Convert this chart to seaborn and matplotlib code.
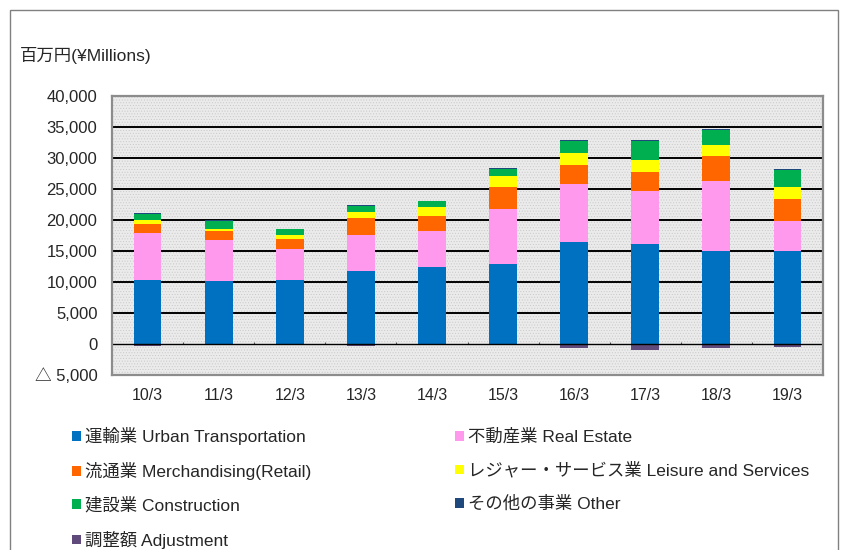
import numpy as np
import pandas as pd
import matplotlib
matplotlib.use("Agg")
import matplotlib.pyplot as plt
import seaborn as sns
from matplotlib.patches import Patch, Rectangle
from matplotlib.ticker import FixedLocator, FuncFormatter

# ---- data (百万円) ----
years = ["10/3", "11/3", "12/3", "13/3", "14/3", "15/3", "16/3", "17/3", "18/3", "19/3"]
transport   = [10300, 10200, 10300, 11800, 12350, 12950, 16450, 16100, 15000, 15000]
real_estate = [7600, 6500, 5050, 5750, 5800, 8900, 9350, 8600, 11300, 4800]
retail      = [1500, 1600, 1560, 2750, 2450, 3400, 3150, 3100, 4000, 3650]
leisure     = [550, 170, 650, 950, 1450, 1800, 1850, 1900, 1850, 1950]
construction= [1000, 1400, 910, 1000, 950, 1150, 2000, 3000, 2350, 2700]
other       = [150, 160, 50, 100, 120, 150, 50, 150, 100, 100]
adjustment  = [-300, -100, -150, -300, -50, -100, -600, -950, -700, -450]

labels = ["運輸業 Urban Transportation", "不動産業 Real Estate",
          "流通業 Merchandising(Retail)", "レジャー・サービス業 Leisure and Services",
          "建設業 Construction", "その他の事業 Other", "調整額 Adjustment"]
colors = ["#0070C0", "#FF99EE", "#FF6600", "#FFFF00", "#00B050", "#1F497D", "#604A7B"]
y_ticks = [-5000, 0, 5000, 10000, 15000, 20000, 25000, 30000, 35000, 40000]

sns.set_style("white")
plt.rcParams["font.family"] = ["Liberation Sans", "Noto Sans CJK JP", "DejaVu Sans"]
plt.rcParams["hatch.linewidth"] = 0.4

W, H = 841, 550
fig = plt.figure(figsize=(W / 100, H / 100), dpi=100)
ax = fig.add_axes([112 / W, 1 - 375 / H, (823 - 112) / W, (375 - 96) / H])

# outer frame
fig.patches.append(Rectangle((10 / W, -0.05), 828 / W, 1.05 - 10 / H, transform=fig.transFigure,
                             fill=False, edgecolor="#808080", linewidth=1.0, zorder=0))

# stippled background
ax.add_patch(Rectangle((0, 0), 1, 1, transform=ax.transAxes, facecolor="#ebebeb",
                       edgecolor="#c8c8c8", hatch="......", linewidth=0, zorder=0))

series = [transport, real_estate, retail, leisure, construction, other]
df = pd.DataFrame({"year": years})
cum = np.cumsum(np.array(series, dtype=float), axis=0)
bw = 0.39
for i in range(len(series) - 1, -1, -1):
    sns.barplot(x=df["year"], y=cum[i], color=colors[i], saturation=1, width=bw,
                ax=ax, zorder=3, linewidth=0)
sns.barplot(x=df["year"], y=np.array(adjustment, dtype=float), color=colors[6], saturation=1,
            width=bw, ax=ax, zorder=3, linewidth=0)

ax.set_xlim(-0.5, len(years) - 0.5)
ax.set_ylim(-5000, 40000)
for v in y_ticks[2:-1]:
    ax.axhline(v, color="black", linewidth=1.4, zorder=2)
ax.axhline(0, color="black", linewidth=1.0, zorder=4)
ax.vlines(np.arange(len(years) - 1) + 0.5, 0, 400, color="#555555", linewidth=0.8, zorder=2)

ax.yaxis.set_major_locator(FixedLocator(y_ticks))
ax.yaxis.set_major_formatter(FuncFormatter(lambda v, p: ("△ " + f"{-v:,.0f}") if v < 0 else f"{v:,.0f}"))
ax.tick_params(axis="y", length=0, pad=10.5, labelsize=12)
ax.tick_params(axis="x", length=0, pad=9.5, labelsize=11.5)
ax.set_xlabel("")
ax.set_ylabel("")
for s in ax.spines.values():
    s.set_color("#8c8c8c")
    s.set_linewidth(1.6)
    s.set_zorder(5)

fig.text(20 / W, 1 - 55 / H, "百万円(¥Millions)", fontsize=12.5, va="center", ha="left")

handles = [Patch(facecolor=c, edgecolor="none") for c in colors]
order = [0, 2, 4, 6, 1, 3, 5]
fig.legend([handles[i] for i in order], [labels[i] for i in order], ncol=2,
           loc="upper left", bbox_to_anchor=(72 / W, 1 - 427 / H), frameon=False,
           fontsize=12.5, handlelength=0.5, handleheight=0.5, handletextpad=0.25,
           labelspacing=0.98, columnspacing=8.3, borderaxespad=0, borderpad=0)

fig.savefig("out.png", dpi=100)
